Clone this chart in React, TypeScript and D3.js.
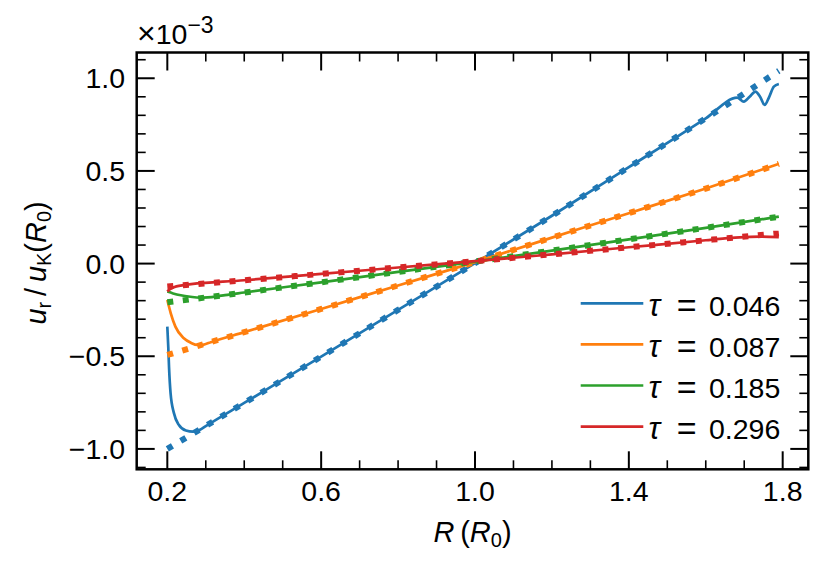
import { useEffect, useRef } from "react";
import * as d3 from "d3";

// tau values (legend) and matplotlib tab10 colours
const tauLabels = ["0.046", "0.087", "0.185", "0.296"];
const colors = ["#1f77b4", "#ff7f0e", "#2ca02c", "#d62728"];

// analytic curves (dotted), u_r / u_K(R0) in units of 1e-3
const analyticR = [0.2, 0.4, 0.6, 0.8, 1.0, 1.2, 1.4, 1.6, 1.79];
const analytic046 = [-1.0, -0.752, -0.502, -0.25, 0.002, 0.258, 0.52, 0.784, 1.04];
const analytic087 = [-0.493, -0.37, -0.245, -0.118, 0.008, 0.14, 0.272, 0.405, 0.538];
const analytic185 = [-0.209, -0.156, -0.101, -0.045, 0.011, 0.07, 0.131, 0.193, 0.253];
const analytic296 = [-0.124, -0.09, -0.056, -0.021, 0.013, 0.05, 0.088, 0.126, 0.164];

// simulation curves (solid), [R, u_r]
const sim046: [number, number][] = [
  [0.2, -0.34], [0.2025, -0.45], [0.2045, -0.56], [0.2085, -0.7], [0.2172, -0.807],
  [0.2302, -0.871], [0.2483, -0.901], [0.267, -0.907], [0.285, -0.897], [0.3, -0.877],
  [0.4, -0.752], [0.6, -0.502], [0.8, -0.25], [1.0, 0.002], [1.2, 0.258], [1.4, 0.52],
  [1.6, 0.784], [1.682, 0.895], [1.699, 0.874], [1.714, 0.9], [1.729, 0.928],
  [1.742, 0.898], [1.753, 0.856], [1.765, 0.9], [1.777, 0.955], [1.79, 0.969],
];
const sim087: [number, number][] = [
  [0.2, -0.196], [0.209, -0.268], [0.221, -0.34], [0.243, -0.403], [0.262, -0.428],
  [0.278, -0.439], [0.295, -0.437], [0.313, -0.424], [0.4, -0.37], [0.6, -0.245],
  [0.8, -0.118], [1.0, 0.008], [1.2, 0.14], [1.4, 0.272], [1.6, 0.405], [1.79, 0.538],
];
const sim185: [number, number][] = [
  [0.2, -0.151], [0.215, -0.161], [0.235, -0.171], [0.26, -0.179], [0.285, -0.184],
  [0.305, -0.182], [0.325, -0.178], [0.35, -0.17], [0.4, -0.156], [0.6, -0.101],
  [0.8, -0.045], [1.0, 0.011], [1.2, 0.07], [1.4, 0.131], [1.6, 0.193], [1.79, 0.253],
];
const sim296: [number, number][] = [
  [0.2, -0.151], [0.208, -0.137], [0.217, -0.128], [0.23, -0.12], [0.4, -0.09],
  [0.6, -0.056], [0.8, -0.021], [1.0, 0.013], [1.2, 0.05], [1.4, 0.088], [1.6, 0.126],
  [1.65, 0.136], [1.7, 0.143], [1.74, 0.146], [1.79, 0.143],
];

const xMajor = [0.2, 0.6, 1.0, 1.4, 1.8];
const xMajorLabels = ["0.2", "0.6", "1.0", "1.4", "1.8"];
const yMajor = [-1.0, -0.5, 0.0, 0.5, 1.0];
const yMajorLabels = ["\u22121.0", "\u22120.5", "0.0", "0.5", "1.0"];

const analyticSeries = [analytic046, analytic087, analytic185, analytic296];
const simSeries = [sim046, sim087, sim185, sim296];

const W = 830;
const H = 569;
const FONT = "'Liberation Sans', Arial, sans-serif";

export default function App() {
  const svgRef = useRef<SVGSVGElement>(null);

  useEffect(() => {
    const svg = d3.select(svgRef.current);
    svg.selectAll("*").remove();

    const left = 136.7;
    const right = 808.3;
    const top = 52.5;
    const bottom = 469.3;

    const x = d3.scaleLinear().domain([0.1204, 1.8666]).range([left, right]);
    const y = d3.scaleLinear().domain([-1.11, 1.139]).range([bottom, top]);

    svg
      .append("defs")
      .append("clipPath")
      .attr("id", "plot-clip")
      .append("rect")
      .attr("x", left)
      .attr("y", top)
      .attr("width", right - left)
      .attr("height", bottom - top);

    const line = d3
      .line<[number, number]>()
      .x((d) => x(d[0]))
      .y((d) => y(d[1]))
      .curve(d3.curveMonotoneX);

    const plot = svg.append("g").attr("clip-path", "url(#plot-clip)");

    simSeries.forEach((sim, i) => {
      plot
        .append("path")
        .datum(sim)
        .attr("fill", "none")
        .attr("stroke", colors[i])
        .attr("stroke-width", 2.7)
        .attr("stroke-linejoin", "round")
        .attr("d", line);

      const pts = analyticR.map((r, j) => [r, analyticSeries[i][j]] as [number, number]);
      plot
        .append("path")
        .datum(pts)
        .attr("fill", "none")
        .attr("stroke", colors[i])
        .attr("stroke-width", 6)
        .attr("stroke-dasharray", "6 9.6")
        .attr("d", line);
    });

    // ticks, inward on all four sides
    const minorX = d3.range(0.3, 1.85, 0.1).filter((v) => !xMajor.some((m) => Math.abs(m - v) < 1e-6));
    const minorY = d3.range(-1.1, 1.15, 0.1).filter((v) => !yMajor.some((m) => Math.abs(m - v) < 1e-6));
    const ticks = svg.append("g").attr("stroke", "black");

    const drawX = (vals: number[], len: number, w: number) => {
      vals.forEach((v) => {
        ticks.append("line").attr("x1", x(v)).attr("x2", x(v)).attr("y1", bottom).attr("y2", bottom - len).attr("stroke-width", w);
        ticks.append("line").attr("x1", x(v)).attr("x2", x(v)).attr("y1", top).attr("y2", top + len).attr("stroke-width", w);
      });
    };
    const drawY = (vals: number[], len: number, w: number) => {
      vals.forEach((v) => {
        ticks.append("line").attr("x1", left).attr("x2", left + len).attr("y1", y(v)).attr("y2", y(v)).attr("stroke-width", w);
        ticks.append("line").attr("x1", right).attr("x2", right - len).attr("y1", y(v)).attr("y2", y(v)).attr("stroke-width", w);
      });
    };
    drawX(xMajor, 18, 2);
    drawX(minorX, 9, 1.6);
    drawY(yMajor, 18, 2);
    drawY(minorY, 9, 1.6);

    svg
      .append("rect")
      .attr("x", left)
      .attr("y", top)
      .attr("width", right - left)
      .attr("height", bottom - top)
      .attr("fill", "none")
      .attr("stroke", "black")
      .attr("stroke-width", 2.5);

    // tick labels
    xMajor.forEach((v, i) => {
      svg
        .append("text")
        .attr("x", x(v))
        .attr("y", 501)
        .attr("text-anchor", "middle")
        .style("font-family", FONT)
        .style("font-size", "28.5px")
        .text(xMajorLabels[i]);
    });
    yMajor.forEach((v, i) => {
      svg
        .append("text")
        .attr("x", 125)
        .attr("y", y(v) + 10.2)
        .attr("text-anchor", "end")
        .style("font-family", FONT)
        .style("font-size", "28.5px")
        .text(yMajorLabels[i]);
    });

    // offset text
    const off = svg
      .append("text")
      .attr("x", 137)
      .attr("y", 43.5)
      .style("font-family", FONT)
      .style("font-size", "28.5px");
    off.append("tspan").style("font-size", "32px").text("\u00d7");
    off.append("tspan").text("10");
    off.append("tspan").attr("dy", -10.8).style("font-size", "23px").text("\u22123");

    // x label
    const xl = svg
      .append("text")
      .attr("x", (left + right) / 2)
      .attr("y", 542)
      .attr("text-anchor", "middle")
      .style("font-family", FONT)
      .style("font-size", "29px");
    xl.append("tspan").style("font-style", "italic").text("R");
    xl.append("tspan").text("\u2009(");
    xl.append("tspan").style("font-style", "italic").text("R");
    xl.append("tspan").attr("dy", 5).style("font-size", "20px").text("0");
    xl.append("tspan").attr("dy", -5).text(")");

    // y label
    const yl = svg
      .append("text")
      .attr("transform", `translate(46, ${(top + bottom) / 2 + 2}) rotate(-90)`)
      .attr("text-anchor", "middle")
      .style("font-family", FONT)
      .style("font-size", "29px");
    yl.append("tspan").style("font-style", "italic").text("u");
    yl.append("tspan").attr("dy", 5).style("font-size", "20px").text("r");
    yl.append("tspan").attr("dy", -5).text("\u2009/\u2009");
    yl.append("tspan").style("font-style", "italic").text("u");
    yl.append("tspan").attr("dy", 5).style("font-size", "20px").text("K");
    yl.append("tspan").attr("dy", -5).text("(");
    yl.append("tspan").style("font-style", "italic").text("R");
    yl.append("tspan").attr("dy", 5).style("font-size", "20px").text("0");
    yl.append("tspan").attr("dy", -5).text(")");

    // legend
    tauLabels.forEach((t, i) => {
      const ly = 303.3 + i * 41.1;
      svg
        .append("line")
        .attr("x1", 580.7)
        .attr("x2", 643.3)
        .attr("y1", ly)
        .attr("y2", ly)
        .attr("stroke", colors[i])
        .attr("stroke-width", 2.7);
      svg
        .append("text")
        .attr("x", 648.5)
        .attr("y", ly + 12.6)
        .style("font-family", FONT)
        .style("font-size", "31px")
        .style("font-style", "italic")
        .text("\u03c4");
      svg
        .append("text")
        .attr("x", 676.7)
        .attr("y", ly + 13.8)
        .style("font-family", FONT)
        .style("font-size", "34px")
        .text("=");
      svg
        .append("text")
        .attr("x", 709)
        .attr("y", ly + 12.6)
        .style("font-family", FONT)
        .style("font-size", "28.5px")
        .text(t);
    });
  }, []);

  return (
    <svg
      ref={svgRef}
      width={W}
      height={H}
      style={{ position: "absolute", left: 0, top: 0, background: "white" }}
    ></svg>
  );
}
